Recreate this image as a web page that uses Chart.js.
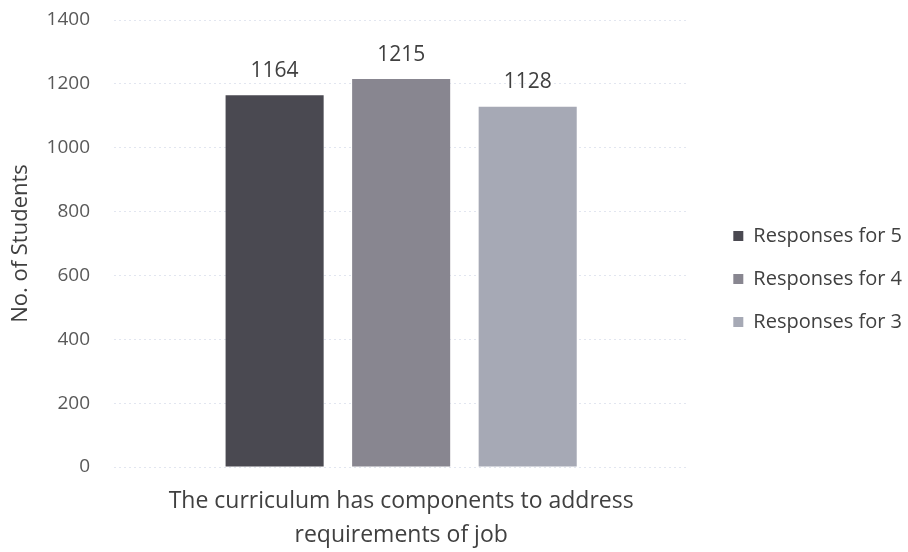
<!DOCTYPE html>
<html><head><meta charset="utf-8">
<script src="https://cdn.jsdelivr.net/npm/chart.js@4/dist/chart.umd.min.js"></script>
<style>html,body{margin:0;padding:0;background:#fff}#wrap{width:908px;height:552px}</style>
</head><body><div id="wrap"><canvas id="c"></canvas></div>
<script>
const categories = [["The curriculum has components to address","requirements of job"]];
const seriesNames = ["Responses for 5","Responses for 4","Responses for 3"];
const values5 = [1164];
const values4 = [1215];
const values3 = [1128];
const yTicks = [0,200,400,600,800,1000,1200,1400];
const colors = ["#4a4951","#888690","#a6a9b5"];

const labelPlugin = {
  id:'vals',
  afterDatasetsDraw(chart){
    const ctx = chart.ctx;
    ctx.save();
    ctx.font = '21px "Open Sans"';
    ctx.fillStyle = '#404040';
    ctx.textAlign='center';
    ctx.textBaseline='bottom';
    chart.data.datasets.forEach((ds,i)=>{
      chart.getDatasetMeta(i).data.forEach((el,j)=>{
        ctx.fillText(String(ds.data[j]), el.x, el.y-14);
      });
    });
    ctx.restore();
  }
};

function draw(){
new Chart(document.getElementById('c'),{
  type:'bar',
  data:{
    labels:categories,
    datasets:[
      {label:seriesNames[0],data:values5,backgroundColor:colors[0]},
      {label:seriesNames[1],data:values4,backgroundColor:colors[1]},
      {label:seriesNames[2],data:values3,backgroundColor:colors[2]}
    ]
  },
  options:{
    responsive:true,maintainAspectRatio:false,animation:false,
    categoryPercentage:0.661,barPercentage:0.775,
    layout:{padding:{top:6,right:-4,left:0,bottom:0}},
    plugins:{
      tooltip:{enabled:false},
      legend:{position:'right',align:'center',
        labels:{boxWidth:10,boxHeight:10,padding:23,color:'#404040',font:{family:'"Open Sans"',size:20}}}
    },
    scales:{
      x:{grid:{display:false,drawTicks:false},border:{display:false},
        afterFit(ax){ax.height=85;ax.paddingLeft=0;ax.paddingRight=0;ax.paddingTop=0;ax.paddingBottom=0;},
        ticks:{color:'#404040',font:{family:'"Open Sans"',size:23,lineHeight:1.45},padding:18,maxRotation:0,minRotation:0}},
      y:{min:0,max:1400,
        afterBuildTicks(ax){ax.ticks = yTicks.map(v=>({value:v}));},
        afterFit(ax){ax.width=114;ax.paddingTop=20;ax.paddingBottom=0;},
        grid:{color:'#e2e6f0',lineWidth:1,drawTicks:false},
        border:{display:false,dash:[2,3]},
        ticks:{color:'#595959',font:{family:'"Open Sans"',size:19},padding:24,callback:v=>String(v)},
        title:{display:true,text:'No. of Students',color:'#404040',font:{family:'"Open Sans"',size:22},padding:{top:8,bottom:0}}
      },
      yr:{position:'right',display:false,afterFit(ax){ax.width=22;}}
    }
  },
  plugins:[labelPlugin]
});
}
Promise.all([
  document.fonts.load('20px "Open Sans"'),
  document.fonts.load('23px "Open Sans"')
]).then(draw, draw);
</script></body></html>
